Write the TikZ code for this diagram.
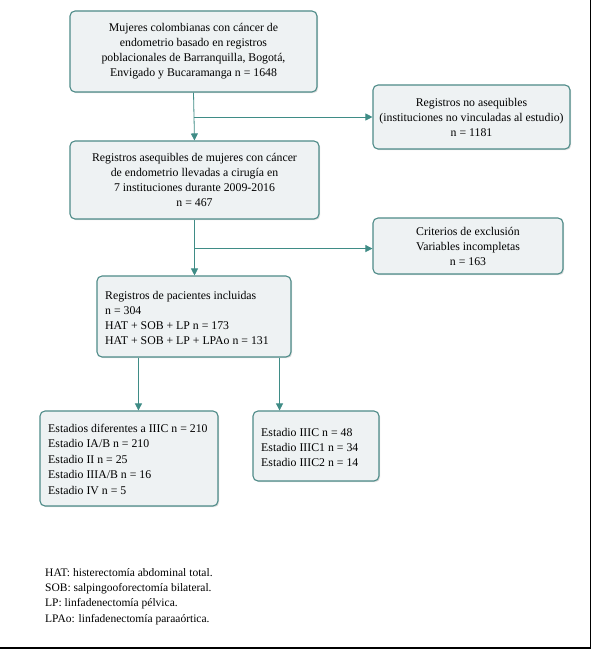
\documentclass[tikz,border=0pt]{standalone}
\usepackage{fontspec}
\setmainfont{Liberation Serif}
\usetikzlibrary{arrows.meta,shadows,calc}
\definecolor{boxfill}{HTML}{EEF2F3}
\definecolor{boxline}{HTML}{4E8B88}
\definecolor{arrline}{HTML}{3F8C86}
\newcommand{\bfs}{\fontsize{11.8}{15}\selectfont}
\tikzset{
  fbox/.style={draw=boxline, line width=1.1pt, fill=boxfill, rounded corners=5pt,
    drop shadow={shadow xshift=1.2pt, shadow yshift=-1.2pt, opacity=0.25},
    inner sep=0pt, font=\bfs},
  cbox/.style={fbox, align=center},
  ltext/.style={anchor=west, align=left, inner sep=0pt, font=\bfs},
  arr/.style={draw=arrline, line width=0.8pt, -{Triangle[length=7pt,width=7pt]}},
  foot/.style={anchor=west, inner sep=0pt, font=\fontsize{11.5}{15}\selectfont}
}
\begin{document}
\begin{tikzpicture}[x=1pt,y=1pt]
\useasboundingbox (0,0) rectangle (592,-650);
\fill[white] (0,0) rectangle (592,-650);
\draw[black, line width=1.6pt] (590.5,0) -- (590.5,-648) -- (0,-648);

\node[cbox, minimum width=247pt, minimum height=81pt] (b1) at (193.5,-51.5)
  {Mujeres colombianas con cáncer de\\endometrio basado en registros\\poblacionales de Barranquilla, Bogotá,\\Envigado y Bucaramanga n = 1648};
\node[cbox, minimum width=197pt, minimum height=64pt] (b2) at (471.5,-117)
  {Registros no asequibles\\(instituciones no vinculadas al estudio)\\n = 1181};
\node[cbox, minimum width=249pt, minimum height=78pt] (b3) at (194.5,-180)
  {Registros asequibles de mujeres con cáncer\\de endometrio llevadas a cirugía en\\7 instituciones durante 2009-2016\\n = 467};
\node[cbox, minimum width=190pt, minimum height=56pt] (b4) at (468,-246)
  {Criterios de exclusión\\Variables incompletas\\n = 163};
\node[fbox, minimum width=194pt, minimum height=81pt] (b5) at (194,-316.5) {};
\node[ltext] (t5) at (105,-318)
  {Registros de pacientes incluidas\\n = 304\\HAT + SOB + LP n = 173\\HAT + SOB + LP + LPAo n = 131};
\node[fbox, minimum width=178pt, minimum height=95pt] (b6) at (129,-458.5) {};
\node[ltext, font=\fontsize{11.8}{15.5}\selectfont] (t6) at (48,-459)
  {Estadios diferentes a IIIC n = 210\\Estadio IA/B n = 210\\Estadio II n = 25\\Estadio IIIA/B n = 16\\Estadio IV n = 5};
\node[fbox, minimum width=126pt, minimum height=70pt] (b7) at (316,-446) {};
\node[ltext] (t7) at (261,-447)
  {Estadio IIIC n = 48\\Estadio IIIC1 n = 34\\Estadio IIIC2 n = 14};

% connectors
\coordinate (j1) at (b1.south |- b2.west);
\draw[arr] (b1.south) -- (b3.north);
\draw[arr] (j1) -- (b2.west);
\coordinate (j2) at ($(b3.south)+(0,-29pt)$);
\draw[arr] (b3.south) -- (b5.north -| b3.south);
\draw[arr] (j2) -- (j2 -| b4.west);
\path (b5.south west) ++(42pt,0) coordinate (s1);
\path (b5.south east) ++(-12pt,0) coordinate (s2);
\draw[arr] (s1) -- (s1 |- b6.north);
\draw[arr] (s2) -- (s2 |- b7.north);

% footnotes
\node[foot] (f1) at (45,-573) {HAT: histerectomía abdominal total.};
\node[foot] (f2) at (45,-589) {SOB: salpingooforectomía bilateral.};
\node[foot] (f3) at (45,-604) {LP: linfadenectomía pélvica.};
\node[foot] (f4) at (45,-620) {LPAo: linfadenectomía paraaórtica.};
\end{tikzpicture}
\end{document}
